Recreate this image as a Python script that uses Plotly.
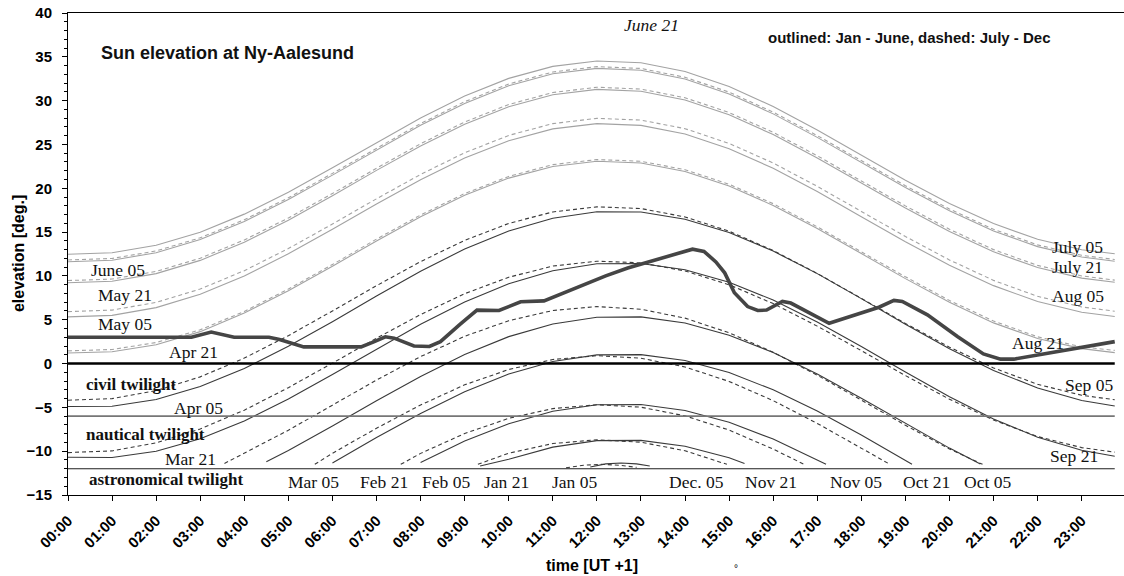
import plotly.graph_objects as go

# ---------------------------------------------------------------- data
# clock time of each sample (hours, UT+1)
HOURS = [0, 1, 2, 3, 4, 5, 6, 7, 8, 9, 10, 11, 12, 13, 14, 15, 16, 17, 18,
         19, 20, 21, 22, 23, 23.75]
TICK_LABELS = ["%02d:00" % h for h in range(24)]

# sun elevation (deg) over the day, Jan - June (solid lines)
JUN21 = [12.47, 12.64, 13.50, 14.99, 17.05, 19.55, 22.33, 25.22, 28.02, 30.53, 32.54, 33.91,
         34.53, 34.32, 33.32, 31.61, 29.33, 26.65, 23.77, 20.92, 18.26, 15.97, 14.18, 12.99, 12.52]
JUN05 = [11.62, 11.79, 12.65, 14.15, 16.21, 18.71, 21.50, 24.39, 27.19, 29.68, 31.70, 33.07,
         33.68, 33.47, 32.47, 30.77, 28.49, 25.81, 22.94, 20.09, 17.43, 15.12, 13.34, 12.15, 11.67]
MAY21 = [9.22, 9.39, 10.26, 11.77, 13.85, 16.36, 19.15, 22.04, 24.83, 27.31, 29.31, 30.67,
         31.28, 31.07, 30.08, 28.39, 26.13, 23.46, 20.59, 17.74, 15.07, 12.75, 10.95, 9.75, 9.27]
MAY05 = [5.32, 5.50, 6.38, 7.90, 10.00, 12.52, 15.32, 18.20, 20.98, 23.45, 25.43, 26.78,
         27.38, 27.18, 26.20, 24.52, 22.28, 19.62, 16.76, 13.90, 11.22, 8.89, 7.07, 5.86, 5.37]
APR21 = [1.20, 1.35, 2.15, 3.64, 5.76, 8.30, 11.11, 13.99, 16.75, 19.20, 21.16, 22.49,
         23.08, 22.88, 21.92, 20.26, 18.04, 15.40, 12.55, 9.69, 6.99, 4.64, 2.85, 1.70, 1.25]
APR05 = [-4.91, -4.88, -4.10, -2.63, -0.56, 1.97, 4.78, 7.71, 10.53, 13.07, 15.13, 16.58,
         17.32, 17.29, 16.47, 14.96, 12.83, 10.26, 7.41, 4.49, 1.70, -0.79, -2.80, -4.21, -4.85]
MAR21 = [-10.69, -10.72, -10.00, -8.58, -6.55, -4.05, -1.25, 1.66, 4.48, 7.02, 9.11, 10.59,
         11.39, 11.42, 10.70, 9.28, 7.25, 4.75, 1.95, -0.96, -3.78, -6.32, -8.41, -9.89, -10.58]
MAR05_T = [4.5, 5, 6, 7, 8, 9, 10, 11, 12, 13, 14, 15, 16, 17, 18, 19, 20, 20.7]
MAR05 = [-11.2, -9.92, -7.13, -4.24, -1.47, 1.03, 3.07, 4.52, 5.29, 5.32, 4.63, 3.24,
         1.26, -1.20, -3.95, -6.84, -9.65, -11.45]
FEB21_T = [6, 7, 8, 9, 10, 11, 12, 13, 14, 15, 16, 17, 18, 19, 19.15]
FEB21 = [-11.34, -8.45, -5.69, -3.21, -1.19, 0.23, 0.99, 1.02, 0.34, -1.03, -3.00, -5.42,
         -8.16, -11.05, -11.5]
FEB05_T = [8, 9, 10, 11, 12, 13, 14, 15, 16, 17, 17.2]
FEB05 = [-11.30, -8.85, -6.86, -5.45, -4.70, -4.68, -5.35, -6.69, -8.62, -11.04, -11.5]
JAN21_T = [9.35, 10, 11, 12, 13, 14, 15, 15.35]
JAN21 = [-11.7, -10.92, -9.54, -8.80, -8.77, -9.44, -10.76, -11.4]
JAN05_T = [11.85, 12.2, 12.55, 12.9, 13.2]
JAN05 = [-11.8, -11.45, -11.35, -11.45, -11.7]

# sun elevation (deg), July - Dec (dashed lines)
JUL05 = [11.82, 11.99, 12.85, 14.35, 16.41, 18.91, 21.70, 24.59, 27.39, 29.88, 31.90, 33.27,
         33.88, 33.67, 32.67, 30.97, 28.69, 26.01, 23.14, 20.29, 17.63, 15.32, 13.54, 12.35, 11.87]
JUL21 = [9.47, 9.64, 10.51, 12.02, 14.10, 16.61, 19.40, 22.29, 25.08, 27.56, 29.56, 30.92,
         31.53, 31.32, 30.33, 28.64, 26.38, 23.71, 20.84, 17.99, 15.32, 13.00, 11.20, 10.00, 9.52]
AUG05 = [5.92, 6.10, 6.98, 8.50, 10.60, 13.12, 15.92, 18.80, 21.58, 24.05, 26.03, 27.38,
         27.98, 27.78, 26.80, 25.12, 22.88, 20.22, 17.36, 14.50, 11.82, 9.49, 7.67, 6.46, 5.97]
AUG21 = [1.45, 1.60, 2.40, 3.85, 5.95, 8.50, 11.30, 14.20, 16.95, 19.40, 21.35, 22.70,
         23.28, 23.08, 22.12, 20.46, 18.24, 15.60, 12.75, 9.90, 7.20, 4.85, 3.05, 1.90, 1.50]
SEP05 = [-4.18, -4.00, -3.09, -1.52, 0.62, 3.18, 6.00, 8.88, 11.63, 14.06, 15.99, 17.30,
         17.88, 17.69, 16.73, 15.10, 12.90, 10.28, 7.44, 4.58, 1.87, -0.50, -2.37, -3.62, -4.13]
SEP21 = [-10.16, -9.97, -9.05, -7.47, -5.32, -2.75, 0.05, 2.89, 5.59, 7.97, 9.85, 11.12,
         11.68, 11.49, 10.57, 8.99, 6.84, 4.27, 1.47, -1.37, -4.07, -6.45, -8.33, -9.59, -10.11]
OCT05_T = [3.55, 4, 5, 6, 7, 8, 9, 10, 11, 12, 13, 14, 15, 16, 17, 18, 19, 20, 20.75]
OCT05 = [-11.4, -10.25, -7.61, -4.75, -1.88, 0.79, 3.11, 4.89, 6.05, 6.50, 6.20, 5.18,
         3.51, 1.29, -1.33, -4.17, -7.04, -9.75, -11.5]
OCT21_T = [5.6, 6, 7, 8, 9, 10, 11, 12, 13, 14, 15, 16, 17, 18, 18.65]
OCT21 = [-11.5, -10.24, -7.38, -4.73, -2.43, -0.68, 0.46, 0.90, 0.61, -0.39, -2.04, -4.23,
         -6.83, -9.66, -11.5]
NOV05_T = [7.55, 8, 9, 10, 11, 12, 13, 14, 15, 16, 16.7]
NOV05 = [-11.5, -10.25, -7.98, -6.25, -5.14, -4.70, -4.98, -5.97, -7.59, -9.76, -11.5]
NOV21_T = [9.3, 10, 11, 12, 13, 14, 14.95]
NOV21 = [-11.5, -10.23, -9.13, -8.70, -8.98, -9.95, -11.5]
DEC05_T = [11.3, 11.7, 12.1, 12.5, 12.9]
DEC05 = [-11.9, -11.6, -11.5, -11.6, -11.85]

# horizon profile around Ny-Aalesund (thick line)
HORIZON_T = [0, 2.8, 3.25, 3.77, 4.56, 4.8, 5.35, 6.65, 6.95, 7.2, 7.4, 7.85, 8.2, 8.45, 8.9,
             9.28, 9.78, 10.27, 10.8, 11.5, 12.2, 12.7, 13.4, 13.9, 14.17, 14.43, 14.7, 14.9,
             15.12, 15.42, 15.65, 15.85, 16.21, 16.4, 17.27, 18.4, 18.74, 18.93, 19.5, 20.18,
             20.77, 21.16, 21.46, 23.75]
HORIZON_EL = [3.0, 3.0, 3.6, 3.0, 3.0, 2.75, 1.9, 1.9, 2.5, 3.05, 2.9, 2.0, 1.95, 2.5, 4.5,
              6.1, 6.05, 7.05, 7.15, 8.6, 10.0, 10.9, 11.9, 12.6, 13.05, 12.8, 11.6, 10.35,
              8.07, 6.5, 6.05, 6.1, 7.08, 6.9, 4.6, 6.43, 7.2, 7.08, 5.56, 3.08,
              1.1, 0.5, 0.5, 2.5]

# horizon, civil, nautical and astronomical twilight limits
TWILIGHT_LEVELS = [0, -6, -12]

# ---------------------------------------------------------------- styles
LIGHT = "#a3a3a3"
DARK = "#3a3a3a"

solid_curves = [
    (HOURS, JUN21, LIGHT), (HOURS, JUN05, LIGHT), (HOURS, MAY21, LIGHT),
    (HOURS, MAY05, LIGHT), (HOURS, APR21, LIGHT), (HOURS, APR05, DARK),
    (HOURS, MAR21, DARK), (MAR05_T, MAR05, DARK), (FEB21_T, FEB21, DARK),
    (FEB05_T, FEB05, DARK), (JAN21_T, JAN21, DARK), (JAN05_T, JAN05, DARK),
]
dashed_curves = [
    (HOURS, JUL05, LIGHT), (HOURS, JUL21, LIGHT), (HOURS, AUG05, LIGHT),
    (HOURS, AUG21, LIGHT), (HOURS, SEP05, DARK), (HOURS, SEP21, DARK),
    (OCT05_T, OCT05, DARK), (OCT21_T, OCT21, DARK), (NOV05_T, NOV05, DARK),
    (NOV21_T, NOV21, DARK), (DEC05_T, DEC05, DARK),
]

fig = go.Figure()

for xs, ys, col in solid_curves:
    fig.add_trace(go.Scatter(x=xs, y=ys, mode="lines", hoverinfo="skip",
                             line=dict(color=col, width=1.1)))
for xs, ys, col in dashed_curves:
    fig.add_trace(go.Scatter(x=xs, y=ys, mode="lines", hoverinfo="skip",
                             line=dict(color=col, width=1.1, dash="4px,3px")))

level_styles = {0: ("#000000", 2.6), -6: ("#767676", 1.8), -12: ("#1e1e1e", 1.1)}
for lvl in TWILIGHT_LEVELS:
    col, w = level_styles[lvl]
    fig.add_trace(go.Scatter(x=[HOURS[0], HOURS[-1]], y=[lvl, lvl], mode="lines",
                             hoverinfo="skip", line=dict(color=col, width=w)))

fig.add_trace(go.Scatter(x=HORIZON_T, y=HORIZON_EL, mode="lines", hoverinfo="skip",
                         line=dict(color="#454545", width=3.6)))

# ---------------------------------------------------------------- labels
SERIF = "Liberation Serif, Times New Roman, serif"
SANS = "Liberation Sans, Arial, sans-serif"

date_labels = [
    ("June 05", 1.13, 10.7), ("May 21", 1.29, 7.85), ("May 05", 1.29, 4.53),
    ("Apr 21", 2.84, 1.34), ("Apr 05", 2.95, -5.06), ("Mar 21", 2.79, -10.88),
    ("Mar 05", 5.56, -13.5), ("Feb 21", 7.17, -13.5), ("Feb 05", 8.58, -13.5),
    ("Jan 21", 9.96, -13.5), ("Jan 05", 11.5, -13.5), ("Dec. 05", 14.25, -13.5),
    ("Nov 21", 15.95, -13.5), ("Nov 05", 17.88, -13.5), ("Oct 21", 19.49, -13.5),
    ("Oct 05", 20.87, -13.5), ("July 05", 22.91, 13.32), ("July 21", 22.91, 11.04),
    ("Aug 05", 22.91, 7.73), ("Aug 21", 22.0, 2.36), ("Sep 05", 23.16, -2.43),
    ("Sep 21", 22.82, -10.54),
]
for txt, x, y in date_labels:
    fig.add_annotation(x=x, y=y, text=txt, showarrow=False, xanchor="center",
                       yanchor="middle", font=dict(family=SERIF, size=17.5, color="#111"))

fig.add_annotation(x=13.25, y=38.65, text="<i>June 21</i>", showarrow=False,
                   font=dict(family=SERIF, size=17.5, color="#111"))

twilight_labels = [("civil twilight", 1.43, -2.43), ("nautical twilight", 1.75, -8.14),
                   ("astronomical twilight", 2.22, -13.28)]
for txt, x, y in twilight_labels:
    fig.add_annotation(x=x, y=y, text="<b>%s</b>" % txt, showarrow=False,
                       font=dict(family=SERIF, size=17, color="#111"))

fig.add_annotation(x=0.70, y=35.47, text="<b>Sun elevation at Ny-Aalesund</b>",
                   showarrow=False, xanchor="left", yanchor="middle",
                   font=dict(family=SANS, size=18, color="#111"))
fig.add_annotation(x=15.83, y=37.18, text="<b>outlined: Jan - June, dashed: July - Dec</b>",
                   showarrow=False, xanchor="left", yanchor="middle",
                   font=dict(family=SANS, size=15, color="#111"))

# axis titles
fig.add_annotation(xref="paper", yref="paper", x=-0.0473, y=0.5, textangle=-90,
                   xanchor="center", yanchor="middle",
                   text="<b>elevation [deg.]</b>", showarrow=False,
                   font=dict(family=SANS, size=16, color="#000"))
fig.add_annotation(xref="paper", yref="paper", x=0.496, y=-0.147,
                   xanchor="center", yanchor="middle",
                   text="<b>time [UT +1]</b>", showarrow=False,
                   font=dict(family=SANS, size=16, color="#000"))
fig.add_annotation(xref="paper", yref="paper", x=0.633, y=-0.153,
                   xanchor="center", yanchor="middle", text="°", showarrow=False,
                   font=dict(family=SANS, size=10, color="#000"))

# ---------------------------------------------------------------- axes
tickfont = dict(family=SANS, size=15, color="#000", weight="bold")
fig.update_xaxes(range=[0, 23.96], tickvals=list(range(24)), ticktext=TICK_LABELS,
                 tickangle=-45, ticks="outside", ticklen=5, tickcolor="#000",
                 showline=True, linecolor="#000", linewidth=1, mirror=True,
                 showgrid=False, zeroline=False, tickfont=tickfont, ticklabelstandoff=5)
fig.update_yaxes(range=[-15, 40], tick0=0, dtick=5, ticks="outside", ticklen=5,
                 tickcolor="#000", showline=True, linecolor="#000", linewidth=1,
                 minor=dict(dtick=1, ticks="outside", ticklen=3, tickcolor="#000"),
                 showgrid=False, zeroline=False, tickfont=tickfont, ticklabelstandoff=7)

fig.update_layout(width=1124, height=576, margin=dict(l=68, r=0, t=13, b=81),
                  plot_bgcolor="white", paper_bgcolor="white", showlegend=False)

fig.write_html("out.html")
